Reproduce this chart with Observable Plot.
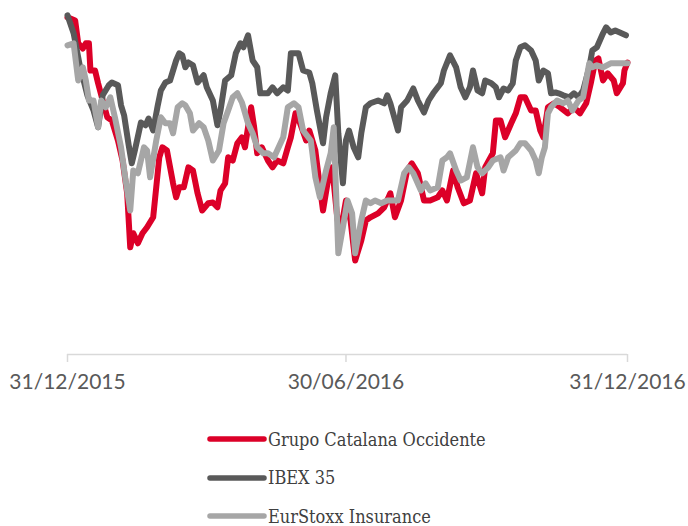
<!DOCTYPE html>
<html><head><meta charset="utf-8">
<script src="https://cdn.jsdelivr.net/npm/d3@7"></script>
<script src="https://cdn.jsdelivr.net/npm/@observablehq/plot@0.6"></script>
<style>
body{margin:0;background:#fff;}
#legend{padding-left:207px;margin-top:15px;font-family:"DejaVu Serif Condensed","DejaVu Serif",serif;font-size:18px;color:#404040;}
.item{display:flex;align-items:center;height:38.5px;}
.item svg{margin-right:1px;display:block}
</style></head><body>
<div id="chart"></div><div id="legend"></div>
<script>
const seriesNames = ["Grupo Catalana Occidente","IBEX 35","EurStoxx Insurance"];
const seriesColors = ["#dc0028","#595959","#a6a6a6"];
const tickLabels = ["2015-12-31","2016-06-30","2016-12-31"];
// [days since 31/12/2015, index value]
const gco = [[0,134.3],[5,133.5],[7,127.8],[10,126.5],[12,127.8],[14,127.8],[15,121],[18,121],[20,117.8],[23,113.5],[26,109.3],[29,108.5],[33,103.5],[36,98.5],[39,90.3],[41,76.8],[43,80.3],[46,77.8],[49,80.3],[52,81.8],[56,84.3],[58,91.8],[60,99.3],[62,101.8],[65,101],[69,92.8],[71,89.3],[73,91.8],[76,91.8],[79,96.8],[82,96],[85,90.3],[88,86],[92,87.8],[95,88],[98,86.8],[100,91],[103,92.8],[105,99.3],[108,98.5],[111,102.8],[114,104.3],[116,101.8],[120,111.8],[122,106.8],[124,100.3],[127,101.8],[131,98.5],[134,96.8],[137,98.5],[141,97.8],[144,101.8],[146,104.3],[149,110.3],[152,107.8],[156,103.5],[158,106],[162,101],[165,91.8],[167,86],[171,95.3],[173,96.8],[176,85.3],[178,79.8],[182,88.5],[185,83.5],[188,73.5],[192,78.5],[195,83.5],[198,84.3],[203,85.3],[207,86.8],[211,90.3],[214,84.3],[218,88.5],[222,96],[225,97.8],[229,95.3],[233,88.5],[237,88.5],[242,89.3],[245,91],[248,88.5],[252,96],[255,91.8],[259,87.8],[263,88.5],[267,95.3],[271,90.3],[273,96.8],[278,100.3],[280,108.5],[283,108.5],[286,104.3],[290,107.8],[293,110.3],[296,114.3],[299,114.3],[303,111],[306,111],[309,106],[311,104.3],[314,111.8],[318,112.8],[322,111.8],[327,110.3],[331,111.8],[335,110.3],[339,112.8],[342,117.8],[345,123.5],[347,124],[350,118.5],[353,120.3],[357,118.5],[359,115.3],[363,117.8],[364,121],[366,123]];
const ibex = [[0,134.8],[4,130.3],[8,122.3],[13,114.8],[17,111],[20,106.8],[23,114.8],[27,117.3],[29,118],[33,117.3],[35,112.3],[37,109.8],[40,102.3],[42,97.8],[44,101],[48,108],[51,107.3],[53,109],[56,106],[59,112.3],[61,116],[64,118],[67,118.5],[71,123.5],[73,125.3],[75,124.8],[77,121.8],[79,123],[82,122.3],[85,118],[89,119.8],[91,116.8],[95,113.5],[98,107.3],[100,111],[103,118.5],[107,119.8],[110,125.3],[113,127.8],[115,126.8],[118,129.8],[121,123.5],[124,121.8],[126,115.3],[131,115.3],[134,116.8],[137,115.3],[141,116.8],[144,116],[146,125.3],[151,125.3],[154,121],[158,120.5],[160,117.8],[163,111],[167,102.8],[169,109.3],[172,115.3],[175,119.8],[177,105.3],[180,92.8],[182,103.5],[184,106],[187,101.8],[190,99.3],[192,105.3],[195,111.8],[198,112.8],[203,113.5],[207,112.8],[209,114.8],[211,112.8],[216,106],[218,111.8],[222,113.5],[226,116.5],[229,113.5],[233,110.5],[236,113.5],[239,115.3],[244,117.8],[246,121],[250,124.8],[254,121.8],[257,116.8],[260,114.3],[263,116.8],[265,121],[268,116],[271,115.3],[273,118.5],[277,117.8],[280,116.8],[282,114.3],[285,116.5],[288,116],[291,117.8],[293,123.5],[296,126.8],[299,127.3],[303,126],[306,123.5],[308,118.5],[311,121],[314,120.3],[316,115.3],[319,115.5],[321,115.3],[324,114.8],[328,114.3],[331,115.3],[334,114.3],[337,116],[341,121.8],[343,126],[346,126.8],[350,130.3],[352,131.8],[355,130.5],[358,131],[361,130.5],[365,129.8]];
const euro = [[0,127.3],[4,127.8],[7,118.5],[10,121.8],[12,118.5],[14,113.5],[17,113.5],[20,106.8],[22,113.5],[25,111.8],[28,114.3],[31,109.3],[35,101.8],[38,93.5],[41,86],[43,96],[46,95.3],[50,101.8],[52,101],[54,94.3],[58,103.5],[61,109.3],[64,107.8],[67,107.8],[69,105.3],[72,111.8],[75,112.8],[77,112.3],[80,110.3],[82,106],[86,107.8],[89,106.8],[92,103.5],[95,98.5],[99,101],[102,107.8],[105,111],[108,114.3],[111,115.3],[114,113],[118,107.8],[121,105.3],[124,101.8],[128,100.3],[131,100.3],[135,99.3],[138,101.8],[141,104.3],[144,111.8],[148,112.8],[151,111.8],[154,106],[159,103.5],[162,94.3],[165,89.3],[169,96],[172,100.3],[174,106.8],[177,75.3],[180,81.8],[183,88.5],[186,85.3],[188,75.3],[192,83.5],[195,88.5],[198,87.8],[201,88.5],[205,87.8],[209,88.5],[213,88.5],[216,88.5],[220,95.3],[223,96.8],[226,95.3],[231,91],[234,92.8],[237,91],[242,91.8],[245,98.5],[248,99.3],[250,100.3],[254,96],[257,93.5],[261,94.3],[265,101.8],[268,96.8],[271,95.3],[275,96.8],[278,98.5],[283,99.3],[285,96],[288,99.3],[293,101],[296,102.8],[299,102.8],[303,101],[306,98.5],[308,95.3],[310,99.3],[312,101.8],[314,110.3],[316,111.8],[320,113.5],[324,112.8],[327,113.5],[330,111],[334,113.5],[337,114.3],[341,122.8],[343,121.8],[346,122.3],[350,121.8],[355,122.8],[360,122.8],[363,122.8],[366,122.8]];

const start = Date.UTC(2015, 11, 31);
const toDate = d => new Date(start + d * 864e5);
const data = [];
[gco, ibex, euro].forEach((s, i) => s.forEach(([d, v]) => data.push({series: seriesNames[i], date: toDate(d), value: v})));
const ticks = tickLabels.map(s => new Date(s + "T00:00:00Z"));

const plot = Plot.plot({
  width: 688, height: 405,
  marginLeft: 67, marginRight: 61, marginTop: 10, marginBottom: 51,
  style: {fontFamily: "Lato, sans-serif", background: "#fff"},
  x: {type: "utc", domain: [ticks[0], ticks[2]]},
  y: {domain: [50, 136], axis: null},
  color: {domain: seriesNames, range: seriesColors},
  marks: [
    Plot.ruleY([50], {stroke: "#d9d9d9", strokeWidth: 1.5}),
    Plot.axisX({ticks, tickFormat: d3.utcFormat("%d/%m/%Y"), tickSize: 8, tickPadding: 12, stroke: "#d9d9d9", strokeWidth: 1.5, fill: "#595959", fontSize: 21, strokeOpacity: 1}),
    Plot.line(data, {x: "date", y: "value", z: "series", stroke: "series", strokeWidth: 6, strokeLinejoin: "round", strokeLinecap: "round"})
  ]
});
document.getElementById("chart").append(plot);

const legend = document.getElementById("legend");
seriesNames.forEach((n, i) => {
  const row = document.createElement("div");
  row.className = "item";
  row.innerHTML = `<svg width="60" height="8"><line x1="3" y1="4" x2="57" y2="4" stroke="${seriesColors[i]}" stroke-width="5.5" stroke-linecap="round"/></svg><span>${n}</span>`;
  legend.append(row);
});
</script>
</body></html>
